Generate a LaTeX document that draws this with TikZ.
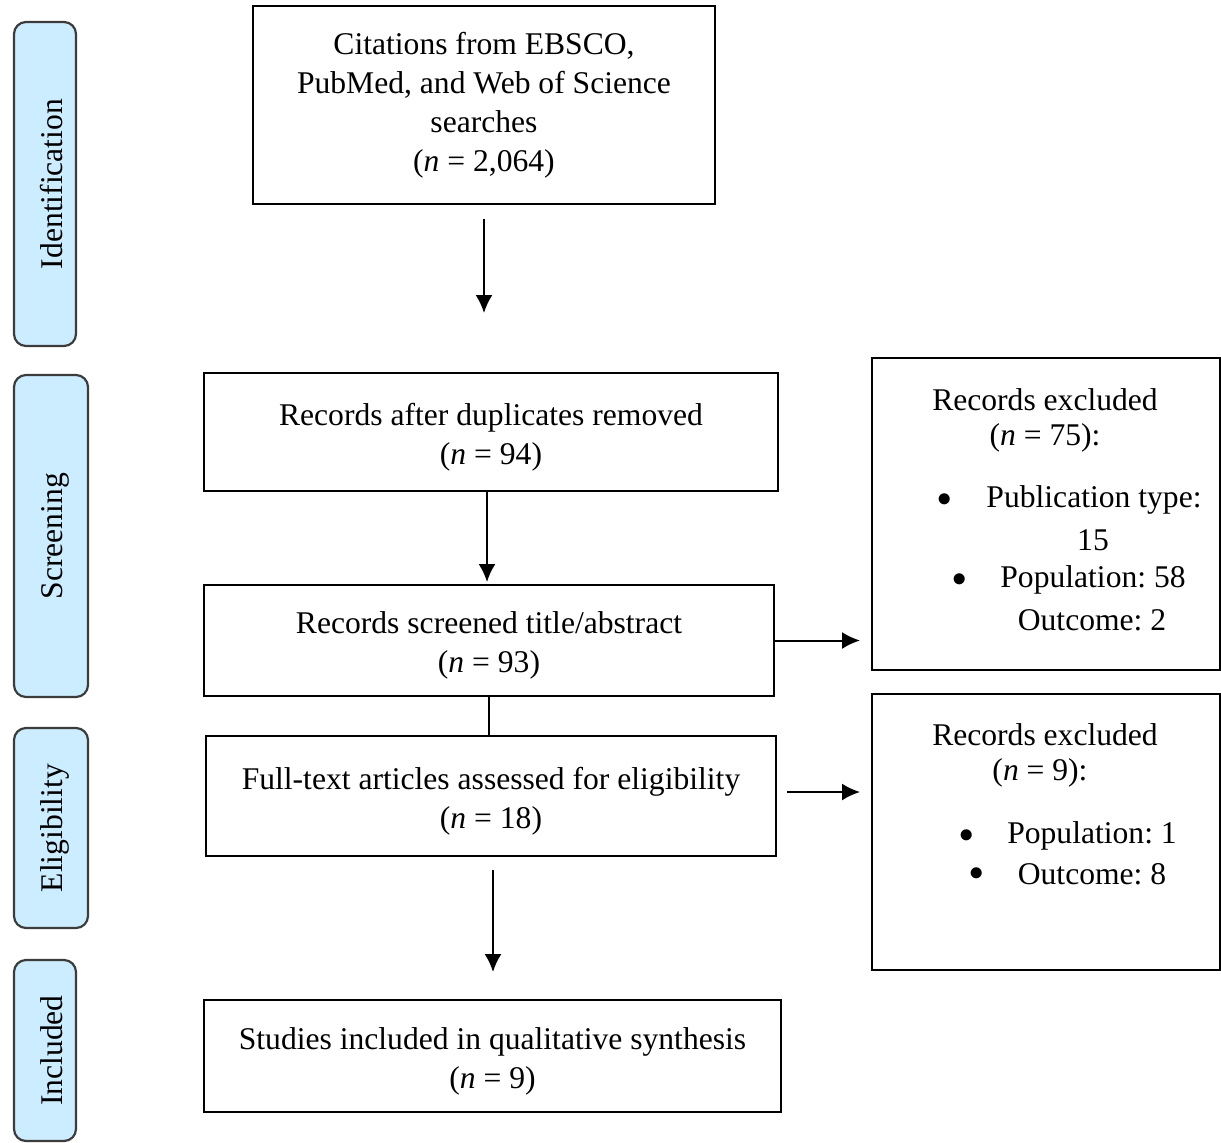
\documentclass[tikz,border=0pt]{standalone}
\usepackage{fontspec}
\setmainfont{Liberation Serif}
\usepackage{tikz}
\usetikzlibrary{arrows.meta}
\definecolor{phaseblue}{RGB}{204,236,255}
\definecolor{phaseline}{RGB}{60,60,60}
\tikzset{
  box/.style={draw, line width=0.9pt, align=center, inner sep=0pt, outer sep=0pt},
  phase/.style={draw=phaseline, fill=phaseblue, line width=1.1pt, rounded corners=6pt,
    rotate=90, inner sep=0pt, outer sep=0pt, text depth=0pt},
  txt/.style={inner sep=0pt},
  arr/.style={line width=1pt, -{Latex[length=9pt,width=8.5pt]}},
}
\newcommand{\nn}[1]{(\textit{n} = #1)}
\frenchspacing
\begin{document}
\begin{tikzpicture}[x=0.5pt, y=-0.5pt, font=\fontsize{15.8}{19.5}\selectfont]
\useasboundingbox (0,0) rectangle (1221,1142);
% phases
\node[phase, minimum width=162pt, minimum height=31pt, text height=17pt] (idf) at (45,184) {Identification};
\node[phase, minimum width=161pt, minimum height=37pt, text height=11pt] (scrn) at (51,536) {Screening};
\node[phase, minimum width=100pt, minimum height=37pt, text height=11pt] (elig) at (51,828) {Eligibility};
\node[phase, minimum width=90.5pt, minimum height=31pt, text height=17pt] (incl) at (45,1050.5) {Included};
% main column
\node[box, minimum width=231pt, minimum height=99pt] (cit) at (484,105)
  {Citations from EBSCO,\\ PubMed, and Web of Science\\ searches\\ \nn{2,064}};
\node[box, minimum width=287pt, minimum height=59pt] (dup) at (491,432)
  {\rule{0pt}{16pt}Records after duplicates removed\\ \nn{94}};
\node[box, minimum width=285pt, minimum height=55.5pt] (scr) at (489,640.5)
  {\rule{0pt}{16pt}Records screened title/abstract\\ \nn{93}};
\node[box, minimum width=285pt, minimum height=60pt] (full) at (491,796)
  {\rule{0pt}{16pt}Full-text articles assessed for eligibility\\ \nn{18}};
\node[box, minimum width=288.5pt, minimum height=56pt] (inc) at (492.5,1056)
  {\rule{0pt}{16pt}Studies included in qualitative synthesis\\ \nn{9}};
% exclusions
\node[box, minimum width=174pt, minimum height=156pt] (ex1) at (1046,514) {};
\node[box, minimum width=174pt, minimum height=138pt] (ex2) at (1046,832) {};
\node[txt] (ex1a) at (1045,400) {Records excluded};
\node[txt] (ex1b) at (1045,438) {\nn{75}:};
\node[txt] (ex1c) at (945,500) {$\bullet$};
\node[txt] (ex1d) at (1094,500) {Publication type:};
\node[txt] (ex1e) at (1093,540) {15};
\node[txt] (ex1f) at (960,580) {$\bullet$};
\node[txt] (ex1g) at (1093,580) {Population: 58};
\node[txt] (ex1h) at (1092,620) {Outcome: 2};
\node[txt] (ex2a) at (1045,735) {Records excluded};
\node[txt] (ex2b) at (1040,773) {\nn{9}:};
\node[txt] (ex2c) at (967,836) {$\bullet$};
\node[txt] (ex2d) at (1092,836) {Population: 1};
\node[txt] (ex2e) at (977,874) {$\bullet$};
\node[txt] (ex2f) at (1092,874) {Outcome: 8};
% connectors
\draw[arr, shorten <=7.5pt, shorten >=30pt] (cit.south) -- (cit.south |- dup.north);
\draw[arr, shorten >=1.5pt] ([xshift=-2pt]dup.south) -- ([xshift=-2pt]dup.south |- scr.north);
\draw[line width=1pt] (scr.south) -- (scr.south |- full.north);
\draw[arr, shorten >=6pt] (scr.east) -- (scr.east -| ex1.west);
\draw[arr, shorten <=5.5pt, shorten >=6pt] ([yshift=2pt]full.east) -- ([yshift=2pt]full.east -| ex2.west);
\draw[arr, shorten <=7pt, shorten >=14pt] ([xshift=1pt]full.south) -- ([xshift=1pt]full.south |- inc.north);
\end{tikzpicture}
\end{document}
